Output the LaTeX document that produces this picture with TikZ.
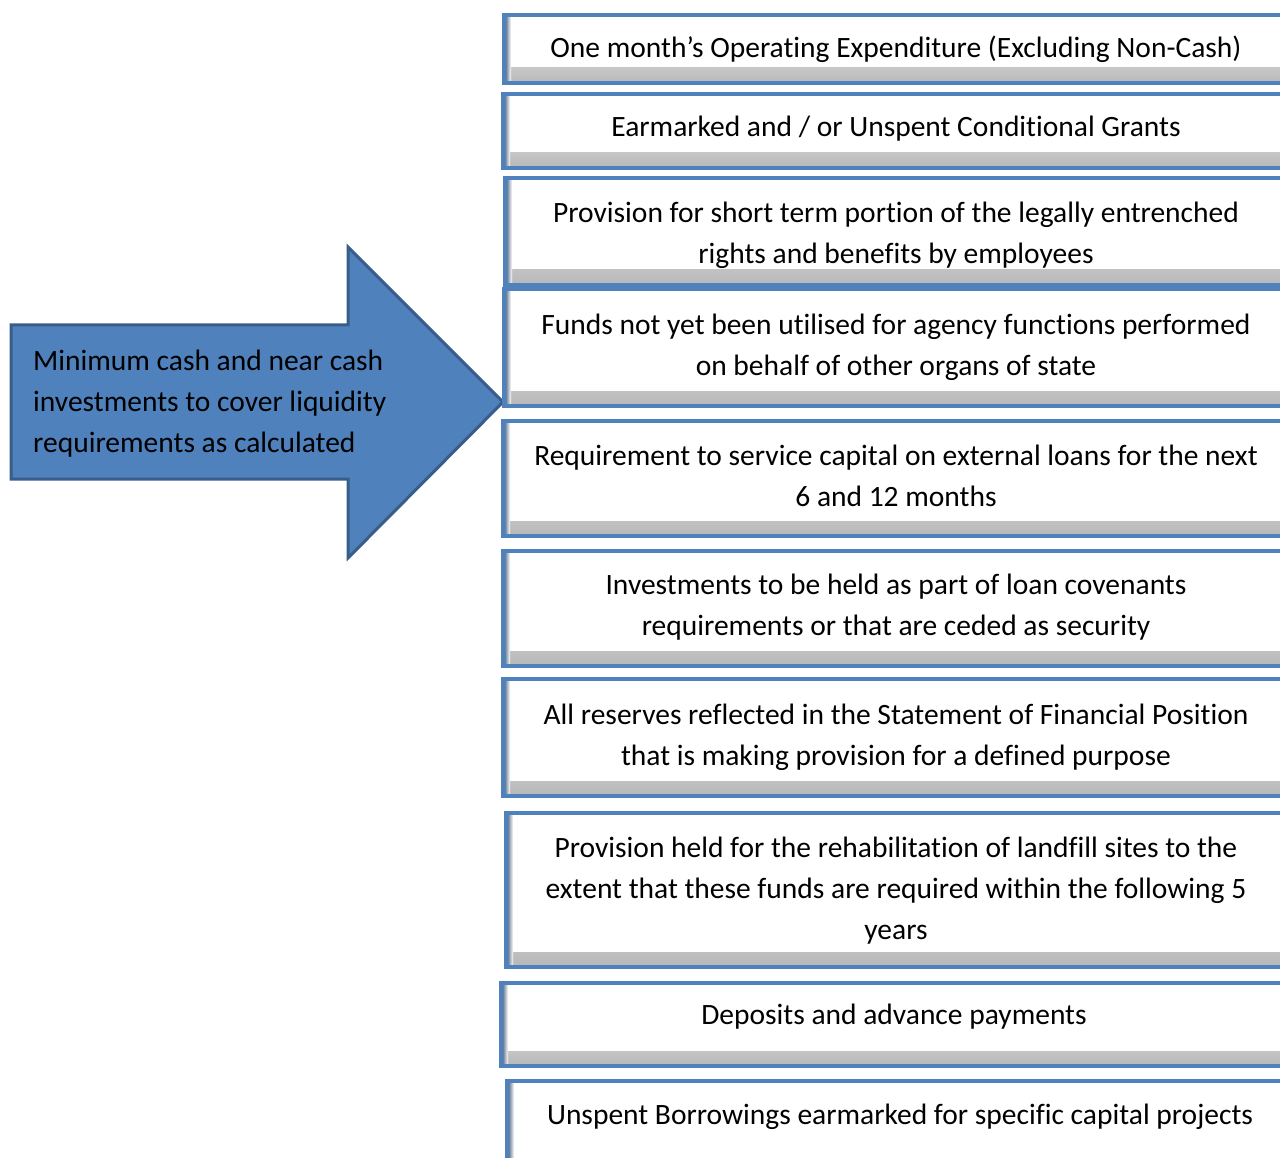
\documentclass[tikz,border=0pt]{standalone}
\usepackage{fontspec}
\setmainfont{Carlito}[Ligatures=NoCommon]
\usepackage{tikz}
\usepackage{xcolor}
\definecolor{boxblue}{HTML}{4F81BD}
\definecolor{edgeblue}{HTML}{385D8A}
\newcommand{\listfont}{\fontsize{29.5}{41}\selectfont}
\tikzset{
  itembox/.style={draw=boxblue, line width=4.5pt, fill=white,
    path picture={\shade[top color=white, bottom color=black!28]
      ([yshift=15pt]path picture bounding box.south west) rectangle (path picture bounding box.south east);
      \shade[left color=boxblue!60!black, right color=white]
      (path picture bounding box.south west) rectangle ([xshift=7pt]path picture bounding box.north west);}},
  itemtext/.style={anchor=north, align=center, font=\listfont, inner sep=0pt, execute at begin node=\strut},
}

\begin{document}
\begin{tikzpicture}[x=1pt, y=-1pt]
            \useasboundingbox (0,0) rectangle (1280,1158);
            \clip (0,0) rectangle (1280,1158);
            % big arrow on the left
            \draw [edgeblue, line width=3pt, fill=boxblue, line join=miter] (11,325) -- (348,325) -- (348,247) -- (503,402) -- (348,558) -- (348,479) -- (11,479) -- cycle;
            \node (mincash) [anchor=north west, align=left, font=\listfont, inner sep=0pt, execute at begin node=\strut] at (33,350) {Minimum cash and near cash\\investments to cover liquidity\\requirements as calculated};
            % list of items
            \draw [itembox] (504,15) rectangle (1292,83);
            \node (opex) [itemtext] at (896,29) {One month’s Operating Expenditure (Excluding Non-Cash)};
            \draw [itembox] (503,94) rectangle (1292,168);
            \node (grants) [itemtext] at (896,108) {Earmarked and / or Unspent Conditional Grants};
            \draw [itembox] (505,178) rectangle (1292,285);
            \node (benefits) [itemtext] at (896,202) {Provision for short term portion of the legally entrenched\\rights and benefits by employees};
            \draw [itembox] (504,289) rectangle (1292,406);
            \node (agency) [itemtext] at (896,314) {Funds not yet been utilised for agency functions performed\\on behalf of other organs of state};
            \draw [itembox] (503,421) rectangle (1292,536);
            \node (loans) [itemtext] at (896,445) {Requirement to service capital on external loans for the next\\6 and 12 months};
            \draw [itembox] (503,551) rectangle (1292,666);
            \node (covenants) [itemtext] at (896,574) {Investments to be held as part of loan covenants\\requirements or that are ceded as security};
            \draw [itembox] (503,679) rectangle (1292,796);
            \node (reserves) [itemtext] at (896,704) {All reserves reflected in the Statement of Financial Position\\that is making provision for a defined purpose};
            \draw [itembox] (506,813) rectangle (1292,967);
            \node (landfill) [itemtext] at (896,837) {Provision held for the rehabilitation of landfill sites to the\\extent that these funds are required within the following 5\\years};
            \draw [itembox] (501,983) rectangle (1292,1066);
            \node (deposits) [itemtext] at (894,996) {Deposits and advance payments};
            \draw [itembox] (507,1081) rectangle (1292,1175);
            \node (borrowings) [itemtext] at (900,1096) {Unspent Borrowings earmarked for specific capital projects};
        \end{tikzpicture}
\end{document}
